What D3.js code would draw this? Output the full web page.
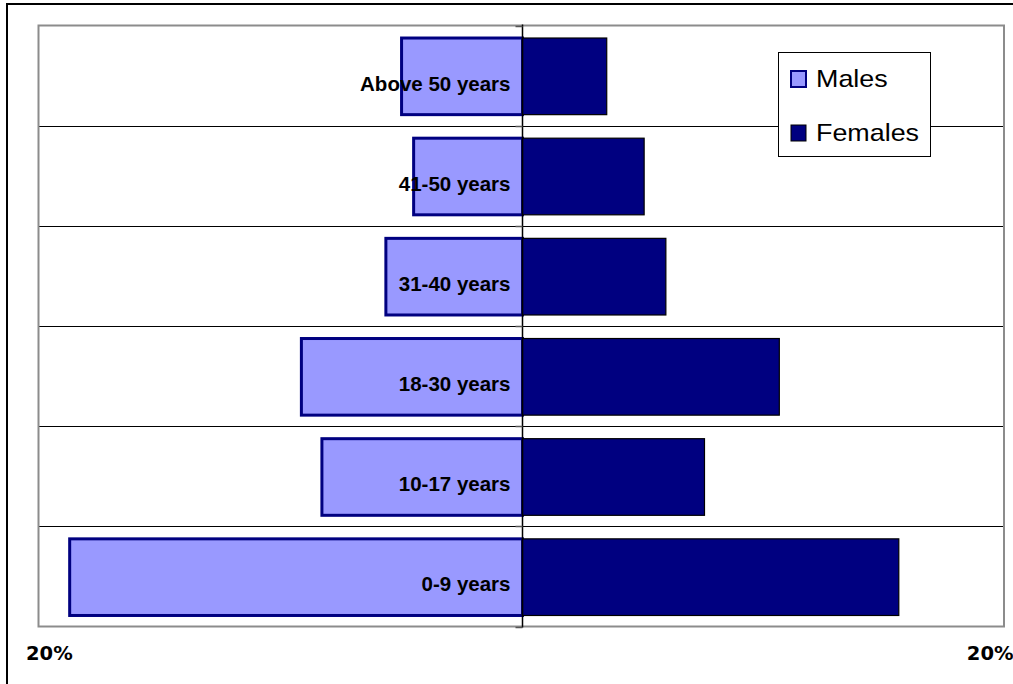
<!DOCTYPE html>
<html>
<head>
<script src="https://d3js.org/d3.v7.min.js"></script>
<style>
  body { margin: 0; background: #fff; }
  .cat text { font-family: 'Liberation Sans', Arial, sans-serif; font-weight: bold; font-size: 20.5px; fill: #000; }
  .pct text { font-family: 'DejaVu Sans', Verdana, sans-serif; font-weight: bold; font-size: 19.5px; fill: #000; }
  .legend text { font-family: 'Liberation Sans', Arial, sans-serif; font-size: 24px; fill: #000; }
</style>
</head>
<body>
<script>
// age groups, top to bottom as drawn
var ageGroups = ["Above 50 years", "41-50 years", "31-40 years", "18-30 years", "10-17 years", "0-9 years"];
// share of the population, in %
var males   = [5.0, 4.5, 5.65, 9.15, 8.3, 18.75];
var females = [3.5, 5.05, 5.95, 10.65, 7.55, 15.6];
var seriesNames = ["Males", "Females"];
var axisTicks = [-20, 20];

var W = 1013, H = 684;
var plot = {left: 38.5, right: 1004, top: 25.5, bottom: 626.5};

var svg = d3.select("body").append("svg")
    .attr("width", W)
    .attr("height", H);

// outer chart frame (runs off the right and bottom edge)
svg.append("rect")
    .attr("x", 7).attr("y", 4)
    .attr("width", W + 20).attr("height", H + 20)
    .style("fill", "none")
    .style("stroke", "#000")
    .style("stroke-width", 2);

var x = d3.scaleLinear()
    .domain([-20, 20])
    .range([plot.left + 1, plot.right + 1]);

var y = d3.scaleBand()
    .domain(ageGroups)
    .range([plot.top, plot.bottom])
    .paddingInner(0.22)
    .paddingOuter(0.11);

var step = y.step();
var x0 = Math.round(x(0)) + 0.5;

// gridlines between categories
svg.append("g")
    .selectAll("line")
    .data(ageGroups.slice(1))
    .enter()
    .append("line")
    .attr("x1", plot.left).attr("x2", plot.right)
    .attr("y1", function(d) { return Math.round(plot.top + ageGroups.indexOf(d) * step) + 0.5; })
    .attr("y2", function(d) { return Math.round(plot.top + ageGroups.indexOf(d) * step) + 0.5; })
    .style("stroke", "#000")
    .style("stroke-width", 1);

// plot area border
svg.append("rect")
    .attr("x", plot.left).attr("y", plot.top)
    .attr("width", plot.right - plot.left)
    .attr("height", plot.bottom - plot.top)
    .style("fill", "none")
    .style("stroke", "#8c8c8c")
    .style("stroke-width", 2);

// males to the left
svg.append("g")
    .selectAll("rect")
    .data(ageGroups)
    .enter()
    .append("rect")
    .attr("x", function(d, i) { return x(-males[i]); })
    .attr("y", function(d) { return y(d) + 1.5; })
    .attr("width", function(d, i) { return x0 - x(-males[i]); })
    .attr("height", y.bandwidth() - 1.5)
    .style("fill", "#9999ff")
    .style("stroke", "#000080")
    .style("stroke-width", 3);

// females to the right
svg.append("g")
    .selectAll("rect")
    .data(ageGroups)
    .enter()
    .append("rect")
    .attr("x", x0)
    .attr("y", function(d) { return y(d) + 1.5; })
    .attr("width", function(d, i) { return x(females[i]) - x0; })
    .attr("height", y.bandwidth() - 1.5)
    .style("fill", "#000080")
    .style("stroke", "#000")
    .style("stroke-width", 1.2);

// category axis in the middle
var catAxis = svg.append("g")
    .attr("class", "cat")
    .attr("transform", "translate(" + x0 + ",0)")
    .call(d3.axisLeft(y).tickSize(0).tickPadding(12));
catAxis.select(".domain").remove();
catAxis.selectAll("text").attr("dy", "0.73em");

svg.append("line")
    .attr("x1", x0).attr("x2", x0)
    .attr("y1", plot.top - 1).attr("y2", plot.bottom + 1)
    .style("stroke", "#000")
    .style("stroke-width", 1.5);

// small tick marks between categories
svg.append("g")
    .selectAll("line")
    .data(d3.range(ageGroups.length + 1))
    .enter()
    .append("line")
    .attr("x1", x0 - 7).attr("x2", x0)
    .attr("y1", function(i) { return Math.round(plot.top + i * step) + 0.5; })
    .attr("y2", function(i) { return Math.round(plot.top + i * step) + 0.5; })
    .style("stroke", "#555")
    .style("stroke-width", 1.5);

// value axis labels
var pctAxis = svg.append("g")
    .attr("class", "pct")
    .attr("transform", "translate(0," + (plot.bottom + 10) + ")")
    .call(d3.axisBottom(x).tickValues(axisTicks).tickSize(0).tickPadding(10)
        .tickFormat(function(d) { return Math.abs(d) + "%"; }));
pctAxis.select(".domain").remove();
pctAxis.selectAll("text")
    .attr("text-anchor", function(d) { return d < 0 ? "start" : "end"; })
    .attr("dx", function(d) { return d < 0 ? -14 : 8; });

// legend
var legend = svg.append("g").attr("class", "legend");
legend.append("rect")
    .attr("x", 778.5).attr("y", 52.5)
    .attr("width", 152).attr("height", 104)
    .style("fill", "#fff")
    .style("stroke", "#000")
    .style("stroke-width", 1);

var swatch = [
  {fill: "#9999ff", stroke: "#000080", sw: 2},
  {fill: "#000080", stroke: "#000", sw: 1}
];
var item = legend.selectAll(".item")
    .data(seriesNames)
    .enter()
    .append("g")
    .attr("class", "item")
    .attr("transform", function(d, i) { return "translate(790," + (70 + i * 54) + ")"; });
item.append("rect")
    .attr("x", 1).attr("y", 1)
    .attr("width", 15).attr("height", 16)
    .style("fill", function(d, i) { return swatch[i].fill; })
    .style("stroke", function(d, i) { return swatch[i].stroke; })
    .style("stroke-width", function(d, i) { return swatch[i].sw; });
item.append("text")
    .attr("transform", "translate(26,17) scale(1.12,1)")
    .text(function(d) { return d; });
</script>
</body>
</html>
